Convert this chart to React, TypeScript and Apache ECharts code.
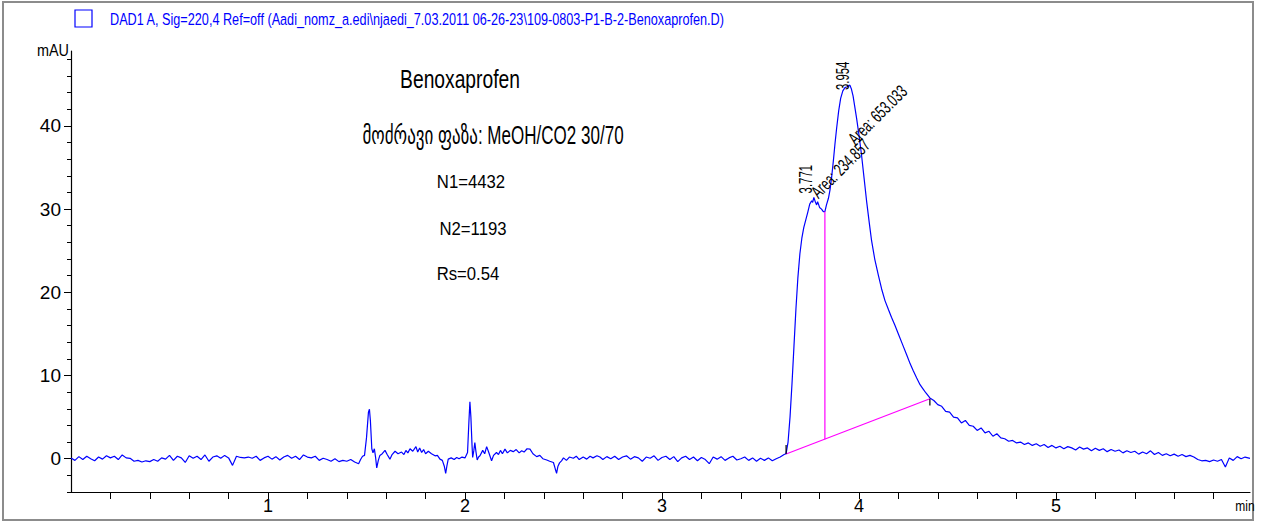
import React, { useEffect, useRef } from "react";
import * as echarts from "echarts";

// Detector trace (retention time in min, absorbance in mAU)
const baselineEarly: [number, number][] = [
  [0.0, 0.1], [0.02, -0.2], [0.04, 0.25], [0.06, -0.1], [0.08, 0.3], [0.1, 0.0], [0.12, -0.25], [0.14, 0.2],
  [0.16, -0.05], [0.18, 0.35], [0.2, 0.1], [0.22, 0.3], [0.24, -0.1], [0.26, 0.45], [0.28, 0.1], [0.3, 0.05],
  [0.32, -0.3], [0.34, -0.2], [0.36, -0.4], [0.38, -0.25], [0.4, -0.35], [0.42, -0.1], [0.44, -0.3], [0.46, 0.1],
  [0.48, -0.05], [0.5, 0.4], [0.52, -0.2], [0.54, 0.3], [0.56, 0.1], [0.58, -0.45], [0.6, 0.35], [0.62, 0.05],
  [0.64, 0.3], [0.66, -0.1], [0.68, 0.45], [0.7, -0.3], [0.72, 0.2], [0.74, 0.35], [0.76, 0.05], [0.78, 0.4],
  [0.8, 0.1], [0.82, -0.8], [0.84, 0.3], [0.86, 0.15], [0.88, 0.1], [0.9, 0.2], [0.92, 0.05], [0.94, 0.3],
  [0.96, -0.2], [0.98, 0.1], [1.0, 0.3], [1.02, -0.05], [1.04, 0.25], [1.06, -0.15], [1.08, 0.2], [1.1, 0.4],
  [1.12, 0.05], [1.14, 0.3], [1.16, -0.1], [1.18, 0.45], [1.2, 0.2], [1.22, 0.1], [1.24, 0.3], [1.26, -0.2],
  [1.28, 0.05], [1.3, -0.1], [1.32, -0.3], [1.34, 0.0], [1.36, -0.35],
];

const impurityRegion: [number, number][] = [
  [1.38, -0.2], [1.4, -0.3], [1.42, -0.1], [1.44, -0.4], [1.46, -0.6], [1.47, -0.1], [1.48, 0.3], [1.49, 0.4],
  [1.5, 2.5], [1.51, 5.6], [1.515, 5.95], [1.52, 4.5], [1.527, 1.2], [1.533, 0.7], [1.54, 1.2], [1.546, 0.2],
  [1.552, -1.1], [1.56, -0.2], [1.568, 0.4], [1.58, 0.6], [1.594, 1.0], [1.605, 0.5], [1.619, -0.05], [1.63, 0.5],
  [1.645, 0.9], [1.66, 0.6], [1.678, 0.8], [1.69, 0.5], [1.7, 1.0], [1.71, 0.7], [1.721, 1.2], [1.735, 0.9],
  [1.751, 1.45], [1.76, 0.8], [1.77, 1.3], [1.78, 0.75], [1.79, 1.1], [1.8, 0.6], [1.814, 0.9], [1.83, 0.6],
  [1.848, 0.35], [1.86, 0.4], [1.873, -0.05], [1.885, -0.2], [1.895, -0.9], [1.902, -1.75], [1.908, -0.9],
  [1.915, -0.05], [1.93, 0.1], [1.945, -0.1], [1.958, 0.15], [1.97, 0.0], [1.985, 0.2], [2.0, 0.1],
  [2.013, 0.75], [2.02, 4.5], [2.025, 6.85], [2.03, 5.0], [2.036, 1.5], [2.039, 0.15], [2.045, 1.0], [2.05, 1.95],
  [2.056, 0.8], [2.062, -0.15], [2.069, 0.2], [2.076, 0.35], [2.09, 1.0], [2.1, 0.6], [2.11, 1.45], [2.12, 0.8],
  [2.135, -0.25], [2.145, 0.4], [2.16, 0.75], [2.17, 0.5], [2.18, 1.0], [2.19, 0.6], [2.203, 1.15], [2.215, 0.7],
  [2.23, 1.0], [2.245, 0.85], [2.26, 1.1], [2.275, 0.7], [2.288, 0.95], [2.3, 0.8], [2.315, 1.2], [2.33, 1.15],
  [2.345, 0.6], [2.364, 0.25], [2.38, 0.4], [2.395, 0.0], [2.415, -0.15], [2.43, -0.3], [2.449, -0.45],
  [2.458, -1.2], [2.465, -1.75], [2.472, -0.9], [2.48, -0.5], [2.49, -0.25], [2.5, 0.1], [2.515, -0.2],
  [2.53, 0.2], [2.55, 0.05], [2.565, 0.3], [2.58, -0.1], [2.6, 0.2], [2.618, -0.05], [2.635, 0.3], [2.65, 0.1],
  [2.67, 0.35], [2.685, 0.2], [2.7, -0.1],
];

const baselineMid: [number, number][] = [
  [2.72, 0.25], [2.74, 0.0], [2.76, 0.3], [2.78, -0.1], [2.8, 0.2], [2.82, 0.35], [2.84, -0.05], [2.86, 0.25],
  [2.88, 0.1], [2.9, -0.3], [2.92, 0.2], [2.94, 0.05], [2.96, 0.35], [2.98, -0.2], [3.0, 0.15], [3.02, 0.3],
  [3.04, -0.1], [3.06, 0.25], [3.08, -0.35], [3.1, 0.1], [3.12, 0.3], [3.14, -0.1], [3.16, 0.2], [3.18, -0.25],
  [3.2, 0.15], [3.22, -0.1], [3.24, -0.6], [3.26, 0.2], [3.28, -0.05], [3.3, 0.25], [3.32, -0.2], [3.34, 0.1],
  [3.36, 0.3], [3.38, -0.15], [3.4, 0.0], [3.42, 0.2], [3.44, -0.2], [3.46, 0.1], [3.48, -0.3], [3.5, 0.05],
  [3.52, -0.2], [3.54, 0.1], [3.56, -0.25], [3.58, 0.0], [3.6, 0.2], [3.62, 0.5],
];

const mainPeak: [number, number][] = [
  [3.63, 0.6], [3.64, 2.0], [3.65, 5.0], [3.66, 9.0], [3.67, 13.5], [3.68, 18.0], [3.69, 21.8], [3.7, 24.6],
  [3.71, 26.5], [3.72, 27.8], [3.73, 28.7], [3.74, 29.6], [3.75, 30.6], [3.76, 31.0], [3.765, 30.8],
  [3.771, 31.4], [3.778, 30.9], [3.785, 30.5], [3.79, 30.9], [3.8, 30.2], [3.81, 30.0], [3.819, 29.7],
  [3.827, 29.7], [3.835, 30.5], [3.845, 31.3], [3.853, 32.3], [3.862, 34.0], [3.87, 35.8], [3.878, 37.8],
  [3.887, 39.8], [3.897, 41.8], [3.907, 43.3], [3.918, 44.2], [3.929, 44.6], [3.94, 44.7], [3.954, 44.9],
  [3.962, 44.4], [3.97, 43.6], [3.978, 42.4], [3.988, 40.9], [4.0, 38.9], [4.013, 36.5], [4.026, 33.7],
  [4.039, 30.9], [4.052, 28.4], [4.064, 26.2], [4.08, 24.0], [4.098, 22.1], [4.115, 20.4], [4.132, 19.0],
  [4.15, 17.9], [4.165, 17.0], [4.183, 16.0], [4.2, 15.0], [4.22, 13.8], [4.242, 12.5], [4.26, 11.4],
  [4.275, 10.6], [4.293, 9.7], [4.31, 8.9], [4.325, 8.4], [4.34, 7.9], [4.36, 7.3],
];

const tail: [number, number][] = [
  [4.38, 7.0], [4.4, 6.5], [4.42, 6.3], [4.44, 5.7], [4.46, 5.6], [4.48, 5.0], [4.5, 4.9], [4.52, 4.3],
  [4.54, 4.6], [4.56, 4.0], [4.58, 3.9], [4.6, 3.4], [4.62, 3.7], [4.64, 3.1], [4.66, 3.3], [4.68, 2.7],
  [4.7, 3.0], [4.72, 2.5], [4.74, 2.4], [4.76, 2.1], [4.78, 2.2], [4.8, 1.9], [4.82, 2.0], [4.84, 1.7],
  [4.86, 1.9], [4.88, 1.6], [4.9, 1.8], [4.92, 1.5], [4.94, 1.7], [4.96, 1.35], [4.98, 1.6], [5.0, 1.3],
  [5.02, 1.5], [5.04, 1.2], [5.06, 1.45], [5.08, 1.3], [5.1, 1.05], [5.12, 1.4], [5.14, 1.15], [5.16, 1.3],
  [5.18, 0.95], [5.2, 1.25], [5.22, 1.0], [5.24, 1.2], [5.26, 0.85], [5.28, 1.1], [5.3, 0.9], [5.32, 1.05],
  [5.34, 0.7], [5.36, 0.95], [5.38, 0.75], [5.4, 0.9], [5.42, 0.55], [5.44, 0.8], [5.46, 0.6], [5.48, 0.95],
  [5.5, 0.5], [5.52, 0.75], [5.54, 0.4], [5.56, 0.6], [5.58, 0.35], [5.6, 0.55], [5.62, 0.3], [5.64, 0.5],
  [5.66, 0.25], [5.68, 0.4], [5.7, 0.2], [5.72, -0.1], [5.74, -0.25], [5.76, -0.2], [5.78, -0.35], [5.8, -0.15],
  [5.82, -0.3], [5.84, -0.1], [5.86, -1.0], [5.88, 0.1], [5.9, -0.2], [5.92, 0.25], [5.94, 0.0], [5.96, 0.2],
  [5.985, 0.05],
];

// Axis ticks and labels
const xLabelValues = [1, 2, 3, 4, 5];
const xTickValues = [0.2, 0.4, 0.6, 0.8, 1, 1.2, 1.4, 1.6, 1.8, 2, 2.2, 2.4, 2.6, 2.8, 3, 3.2, 3.4, 3.6, 3.8, 4, 4.2, 4.4, 4.6, 4.8, 5, 5.2, 5.4, 5.6, 5.8];
const yLabelValues = [0, 10, 20, 30, 40];
const yMinorTickValues = [-4, -2, 0, 2, 4, 6, 8, 10, 12, 14, 16, 18, 20, 22, 24, 26, 28, 30, 32, 34, 36, 38, 40, 42, 44, 46, 48];

// Integration results
const peakTimes = [3.771, 3.954];
const peakHeights = [31.4, 44.9];
const peakAreas = [234.857, 653.033];
const integrationStart: [number, number] = [3.63, 0.56];
const integrationEnd: [number, number] = [4.36, 7.2];
const dropLineTime = 3.827;
const dropLineTop = 29.7;

// Text
const signalTitle = String.raw`DAD1 A, Sig=220,4 Ref=off (Aadi_nomz_a.edi\njaedi_7.03.2011 06-26-23\109-0803-P1-B-2-Benoxaprofen.D)`;
const annotationLines = ["Benoxaprofen", "მოძრავი ფაზა: MeOH/CO2 30/70", "N1=4432", "N2=1193", "Rs=0.54"];

const FONT = "Liberation Sans, Arial, DejaVu Sans, sans-serif";

export default function App() {
  const ref = useRef<HTMLDivElement>(null);

  useEffect(() => {
    const chart = echarts.init(ref.current!, null, { renderer: "svg" });
    const trace = [...baselineEarly, ...impurityRegion, ...baselineMid, ...mainPeak, ...tail];
    const baseAtDrop =
      integrationStart[1] +
      ((dropLineTime - integrationStart[0]) / (integrationEnd[0] - integrationStart[0])) *
        (integrationEnd[1] - integrationStart[1]);

    chart.setOption({
      animation: false,
      backgroundColor: "#ffffff",
      grid: { left: 71, right: 17, top: 51, bottom: 33 },
      xAxis: {
        type: "value",
        min: 0,
        max: 5.985,
        splitLine: { show: false },
        axisLine: { onZero: false, lineStyle: { color: "#000", width: 1.2 } },
        axisTick: { customValues: xTickValues, length: 7, lineStyle: { color: "#000" } },
        axisLabel: { customValues: xLabelValues, color: "#000", fontSize: 18, fontFamily: FONT, margin: 5 },
      },
      yAxis: [
        {
          type: "value",
          min: -4,
          max: 49,
          splitLine: { show: false },
          axisLine: { show: true, lineStyle: { color: "#000", width: 1.2 } },
          axisTick: { customValues: yMinorTickValues, length: 4, lineStyle: { color: "#000" } },
          axisLabel: { customValues: yLabelValues, color: "#000", fontSize: 19, fontFamily: FONT, margin: 10 },
        },
        {
          type: "value",
          min: -4,
          max: 49,
          position: "left",
          splitLine: { show: false },
          axisLine: { show: false },
          axisTick: { customValues: yLabelValues, length: 7, lineStyle: { color: "#000" } },
          axisLabel: { show: false },
        },
      ],
      series: [
        {
          name: "trace",
          type: "line",
          data: trace,
          showSymbol: false,
          lineStyle: { color: "#0000ff", width: 1.2 },
          z: 3,
        },
        {
          name: "baseline",
          type: "line",
          data: [integrationStart, integrationEnd],
          showSymbol: false,
          lineStyle: { color: "#ff00ff", width: 1.2 },
          z: 4,
        },
        {
          name: "drop",
          type: "line",
          data: [[dropLineTime, baseAtDrop], [dropLineTime, dropLineTop]],
          showSymbol: false,
          lineStyle: { color: "#ff00ff", width: 1.2 },
          z: 4,
        },
        {
          name: "startMark",
          type: "line",
          data: [integrationStart, [integrationStart[0], integrationStart[1] + 1.1]],
          showSymbol: false,
          lineStyle: { color: "#000", width: 1.2 },
          z: 5,
        },
        {
          name: "endMark",
          type: "line",
          data: [integrationEnd, [integrationEnd[0], integrationEnd[1] - 0.8]],
          showSymbol: false,
          lineStyle: { color: "#000", width: 1.2 },
          z: 5,
        },
      ],
    });

    const px = (p: [number, number]) =>
      chart.convertToPixel({ xAxisIndex: 0, yAxisIndex: 0 }, p) as number[];

    // Retention-time labels, rotated upward above each apex
    const rtOffsets = [[1, -4], [2, 5]];
    const rtLabels = peakTimes.map((t, i) => {
      const [x, y] = px([t, peakHeights[i]]);
      return {
        type: "text",
        x: x + rtOffsets[i][0],
        y: y + rtOffsets[i][1],
        rotation: Math.PI / 2,
        scaleX: 0.6,
        style: {
          text: t.toFixed(3),
          fontSize: 19,
          fontFamily: FONT,
          fill: "#000",
          align: "left",
          verticalAlign: "bottom",
        },
        z: 10,
      };
    });

    // Area labels, drawn at 45 degrees
    const areaAnchors: [number, number][] = [
      [dropLineTime, dropLineTop],
      [peakTimes[1], peakHeights[1]],
    ];
    const areaOffsets = [[-11, -17], [1, 56]];
    const areaLabels = peakAreas.map((a, i) => {
      const [x, y] = px(areaAnchors[i]);
      return {
        type: "text",
        x: x + areaOffsets[i][0],
        y: y + areaOffsets[i][1],
        rotation: Math.PI / 4,
        scaleX: 0.66,
        style: {
          text: "Area: " + a.toFixed(3),
          fontSize: 18,
          fontFamily: FONT,
          fill: "#000",
          align: "left",
          verticalAlign: "middle",
        },
        z: 10,
      };
    });

    const annotationLayout = [
      { x: 460, y: 80, size: 25, sx: 0.77 },
      { x: 493, y: 135, size: 26, sx: 0.655 },
      { x: 471, y: 182, size: 19, sx: 0.88 },
      { x: 473, y: 229, size: 19, sx: 0.88 },
      { x: 468, y: 274, size: 19, sx: 0.88 },
    ];
    const annotations = annotationLines.map((text, i) => ({
      type: "text",
      x: annotationLayout[i].x,
      y: annotationLayout[i].y,
      scaleX: annotationLayout[i].sx,
      style: {
        text,
        fontSize: annotationLayout[i].size,
        fontFamily: FONT,
        fill: "#000",
        align: "center",
        verticalAlign: "middle",
      },
      z: 10,
    }));

    chart.setOption({
      graphic: [
        {
          type: "rect",
          shape: { x: 3, y: 2, width: 1250, height: 518 },
          style: { fill: "none", stroke: "#8c8c8c", lineWidth: 2 },
          silent: true,
        },
        {
          type: "rect",
          shape: { x: 75, y: 10, width: 17, height: 17 },
          style: { fill: "none", stroke: "#0000ff", lineWidth: 1.2 },
        },
        {
          type: "text",
          x: 110,
          y: 19,
          scaleX: 0.745,
          style: {
            text: signalTitle,
            fontSize: 17,
            fontFamily: FONT,
            fill: "#0000ff",
            align: "left",
            verticalAlign: "middle",
          },
        },
        {
          type: "text",
          x: 69,
          y: 50,
          scaleX: 0.9,
          style: { text: "mAU", fontSize: 16, fontFamily: FONT, fill: "#000", align: "right", verticalAlign: "middle" },
        },
        {
          type: "text",
          x: 1245,
          y: 506,
          scaleX: 0.8,
          style: { text: "min", fontSize: 15, fontFamily: FONT, fill: "#000", align: "center", verticalAlign: "middle" },
        },
        ...annotations,
        ...rtLabels,
        ...areaLabels,
      ],
    });

    return () => chart.dispose();
  }, []);

  return (
    <div
      ref={ref}
      style={{ position: "fixed", left: 0, top: 0, width: 1267, height: 525 }}
    />
  );
}
